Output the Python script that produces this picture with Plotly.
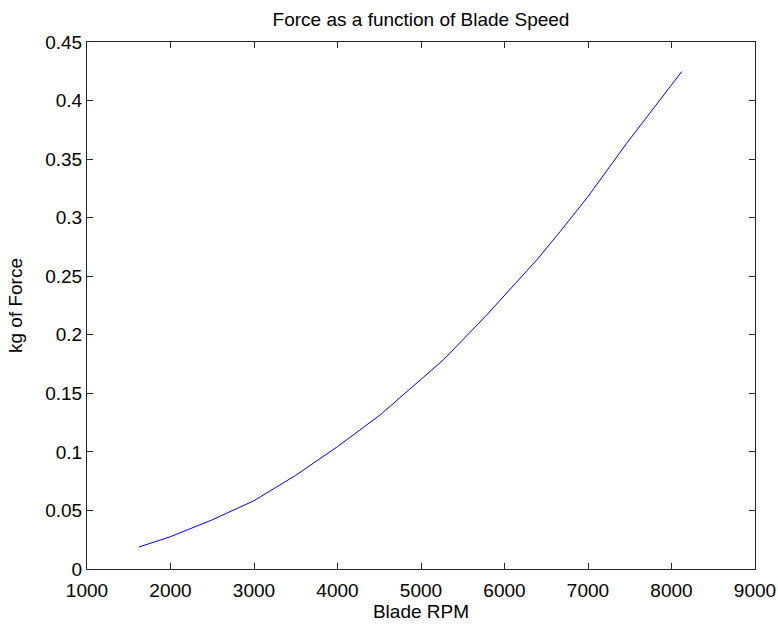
import plotly.graph_objects as go

rpm = [1623, 2000, 2500, 3000, 3500, 4000, 4509, 5000, 5267, 5787, 6000, 6386, 6665, 7000, 7463, 8122]
force = [0.0188, 0.0276, 0.042, 0.0583, 0.080, 0.1045, 0.1315, 0.162, 0.1785, 0.2169, 0.2336, 0.2639, 0.288, 0.318, 0.3635, 0.4247]

x_ticks = [1000, 2000, 3000, 4000, 5000, 6000, 7000, 8000, 9000]
y_ticks = [0, 0.05, 0.1, 0.15, 0.2, 0.25, 0.3, 0.35, 0.4, 0.45]
y_ticktext = ["0", "0.05", "0.1", "0.15", "0.2", "0.25", "0.3", "0.35", "0.4", "0.45"]

font = "Liberation Sans, Arial, sans-serif"
fs = 19

fig = go.Figure()
fig.add_trace(go.Scatter(x=rpm, y=force, mode="lines",
                         line=dict(color="#0000ff", width=1)))

axis_common = dict(showline=True, linecolor="#262626", linewidth=1, mirror="ticks",
                   ticks="inside", ticklen=6, tickcolor="#262626", tickwidth=1,
                   showgrid=False, zeroline=False, automargin=False,
                   tickfont=dict(family=font, size=fs, color="#000000"))

fig.update_layout(
    width=778, height=625,
    margin=dict(l=87, r=23, t=42, b=56),
    paper_bgcolor="white", plot_bgcolor="white",
    showlegend=False,
    title=dict(text="Force as a function of Blade Speed", x=(87 + 755) / 2 / 778, xanchor="center",
               y=1 - 19/625, yanchor="middle",
               font=dict(family=font, size=fs, color="#000000")),
    xaxis=dict(range=[1000, 9000], tickvals=x_ticks, ticklabelstandoff=4,
               title=dict(text="Blade RPM", font=dict(family=font, size=fs, color="#000000"), standoff=1),
               **axis_common),
    yaxis=dict(range=[0, 0.45], tickvals=y_ticks, ticktext=y_ticktext,
               title=dict(text="kg of Force", font=dict(family=font, size=fs, color="#000000"), standoff=17),
               **axis_common),
)

fig.write_html("out.html", config={"displayModeBar": False},
               post_script="document.body.style.margin='0';document.body.style.overflow='hidden';")
